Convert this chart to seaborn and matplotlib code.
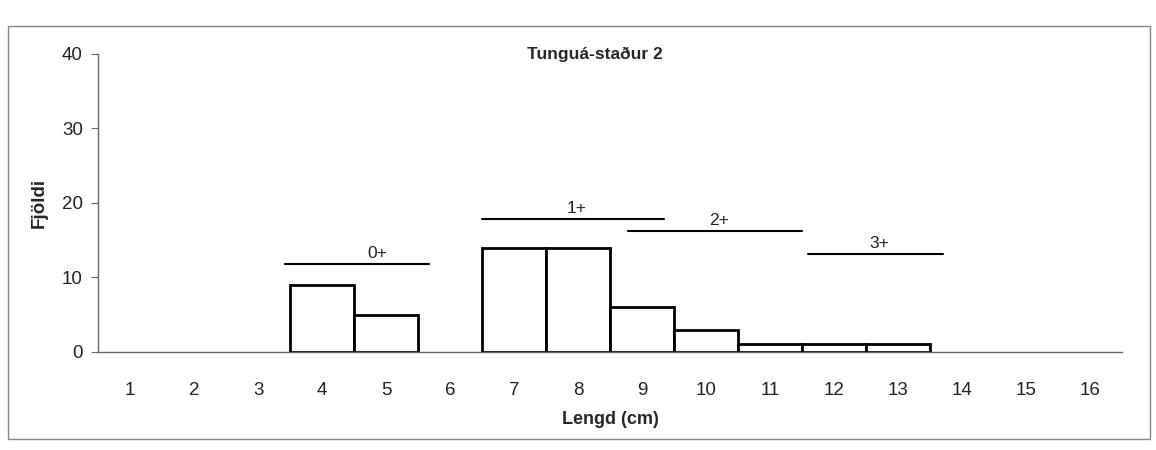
#!/usr/bin/env python3

import pandas as pd
import seaborn as sns
import matplotlib.pyplot as plt
from matplotlib.patches import Rectangle

# Length classes (cm) and fish counts
lengths = list(range(1, 17))
counts = [0, 0, 0, 9, 5, 0, 14, 14, 6, 3, 1, 1, 1, 0, 0, 0]

# Age-group bars: label, start, end (in length-class units), height
age_labels = ['0+', '1+', '2+', '3+']
age_start = [3.42, 6.5, 8.77, 11.58]
age_end = [5.67, 9.34, 11.5, 13.7]
age_level = [11.8, 17.8, 16.2, 13.2]
age_text_x = [4.86, 7.98, 10.2, 12.7]

sns.set_style('white')
plt.rcParams['font.family'] = ['Liberation Sans', 'DejaVu Sans']

data = pd.DataFrame({'Lengd': lengths, 'Fjoldi': counts})

fig = plt.figure(figsize=(11.56, 4.5), dpi=100)
ax = fig.add_axes([0.085, 0.218, 0.886, 0.662])

sns.barplot(data=data, x='Lengd', y='Fjoldi', order=lengths, width=1.0,
            color='white', edgecolor='black', linewidth=2, ax=ax,
            saturation=1)

# empty classes should not leave a black stroke on the axis
for bar in ax.patches:
    if bar.get_height() == 0:
        bar.set_linewidth(0)

# seaborn puts categories at 0..15, so shift the age lines by one
for lab, s, e, lv, tx in zip(age_labels, age_start, age_end, age_level, age_text_x):
    ax.plot([s - 1, e - 1], [lv, lv], color='black', lw=1.5)
    ax.text(tx - 1, lv + 0.4, lab, ha='center', va='bottom', fontsize=12.5,
            color='#222222')

ax.set_xlim(-0.5, 15.5)
ax.set_ylim(0, 40)
ax.set_yticks([0, 10, 20, 30, 40])
ax.set_xticks(range(16))
ax.set_xticklabels([str(v) for v in lengths])
ax.set_xticks([i - 0.5 for i in range(17)], minor=True)

for side in ['top', 'right']:
    ax.spines[side].set_visible(False)
for side in ['left', 'bottom']:
    ax.spines[side].set_color('#666666')
    ax.spines[side].set_linewidth(1)

ax.tick_params(axis='x', which='major', length=0, pad=22, labelsize=13.5,
               labelcolor='#222222')
ax.tick_params(axis='x', which='minor', length=5, color='#666666',
               direction='out')
ax.tick_params(axis='y', length=5, color='#666666', labelsize=13.5,
               labelcolor='#222222', direction='out', left=True, pad=6)

ax.set_xlabel('Lengd (cm)', fontsize=13, fontweight='bold', labelpad=8)
ax.set_ylabel('Fjöldi', fontsize=13.5, fontweight='bold', labelpad=10)

ax.text(0.485, 1.0, 'Tunguá-staður 2', transform=ax.transAxes, ha='center',
        va='center', fontsize=12.5, fontweight='bold')

# Chart border as in the spreadsheet export
fig.patches.append(Rectangle((0.007, 0.025), 0.988, 0.918,
                             transform=fig.transFigure, fill=False,
                             edgecolor='#888888', linewidth=1))

fig.savefig('out.png', dpi=100)
